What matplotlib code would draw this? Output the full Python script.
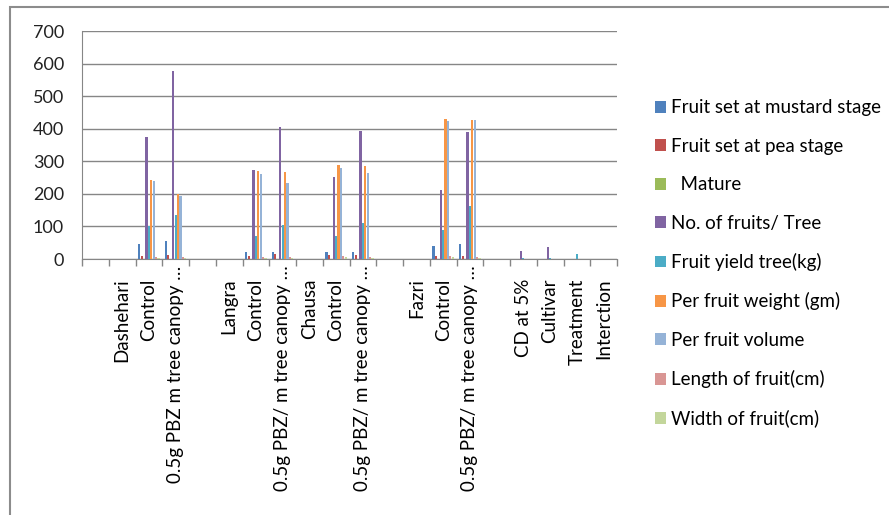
import numpy as np
import matplotlib
matplotlib.use("Agg")
import matplotlib.pyplot as plt
import matplotlib.transforms as mtransforms
from matplotlib.patches import Rectangle

plt.rcParams['font.family'] = ['Lato', 'DejaVu Sans']

# category labels along the x axis (blank slots separate the cultivars)
categories = ["", "Dashehari", "Control", "0.5g PBZ m tree canopy …", "",
              "Langra", "Control", "0.5g PBZ/ m tree canopy …",
              "Chausa", "Control", "0.5g PBZ/ m tree canopy …", "",
              "Fazri", "Control", "0.5g PBZ/ m tree canopy …", "",
              "CD at 5%", "Cultivar", "Treatment", "Interction"]

series_names = ["Fruit set at mustard stage", "Fruit set at pea stage", "  Mature",
                "No. of fruits/ Tree", "Fruit yield tree(kg)", "Per fruit weight (gm)",
                "Per fruit volume", "Length of fruit(cm)", "Width of fruit(cm)"]

mustard = [0, 0, 46, 56, 0, 0, 20, 20, 0, 20, 20, 0, 0, 39, 45, 0, 0, 0, 0, 0]
pea     = [0, 0, 10, 13, 0, 0, 10, 15, 0, 11, 13, 0, 0, 8, 9, 0, 0, 0, 0, 0]
mature  = [0, 0, 1, 1, 0, 0, 1, 1, 0, 1, 1, 0, 0, 1, 1, 0, 0, 0, 0, 0]
fruits  = [0, 0, 376, 577, 0, 0, 273, 405, 0, 251, 392, 0, 0, 212, 389, 0, 26, 37, 0, 0]
yield_  = [0, 0, 100, 135, 0, 0, 71, 105, 0, 71, 111, 0, 0, 89, 164, 0, 3, 3, 15, 0]
weight  = [0, 0, 244, 200, 0, 0, 269, 266, 0, 289, 284, 0, 0, 431, 426, 0, 0, 0, 0, 0]
volume  = [0, 0, 239, 193, 0, 0, 262, 234, 0, 280, 265, 0, 0, 423, 426, 0, 0, 0, 0, 0]
length  = [0, 0, 7, 7, 0, 0, 7, 7, 0, 8, 7, 0, 0, 10, 7, 0, 0, 0, 0, 0]
width   = [0, 0, 4, 4, 0, 0, 4, 4, 0, 5, 4, 0, 0, 5, 4, 0, 0, 0, 0, 0]

data = [mustard, pea, mature, fruits, yield_, weight, volume, length, width]
colors = ["#4F81BD", "#C0504D", "#9BBB59", "#8064A2", "#4BACC6",
          "#F79646", "#95B3D7", "#D99694", "#C3D69B"]

fig = plt.figure(figsize=(8.89, 5.15), dpi=100)
ax = fig.add_axes([82 / 889, 1 - 259 / 515, (617 - 82) / 889, (259 - 31) / 515])

x = np.arange(len(categories))
bw = 0.09
offset = (len(data) - 1) / 2
for i, (vals, c, name) in enumerate(zip(data, colors, series_names)):
    ax.bar(x + (i - offset) * bw, vals, bw * 0.9, color=c, label=name, zorder=3)

ax.set_xlim(-0.5, len(categories) - 0.5)
ax.set_ylim(0, 700)
ax.set_yticks(range(0, 701, 100))
ax.yaxis.grid(True, color="#868686", lw=1, zorder=0)
ax.tick_params(axis="y", length=0, labelsize=13, pad=13, labelcolor="#222222")

ax.set_xticks(x)
ax.set_xticklabels(categories, rotation=90, fontsize=13.5, va="top", ha="center")
ax.set_xticks(np.arange(-0.5, len(categories)), minor=True)
ax.tick_params(axis="x", which="major", length=0, pad=14)
ax.tick_params(axis="x", which="minor", length=5, color="#868686", width=1)

# truncated labels sit a little higher than the short ones
shift = mtransforms.ScaledTranslation(0, 13 / 100, fig.dpi_scale_trans)
for lab in ax.get_xticklabels():
    if lab.get_text().endswith("…"):
        lab.set_transform(lab.get_transform() + shift)

for s in ["top", "right"]:
    ax.spines[s].set_visible(False)
for s in ["left", "bottom"]:
    ax.spines[s].set_color("#868686")

fig.legend(loc="upper left", bbox_to_anchor=(647 / 889, 1 - 92 / 515), frameon=False,
           fontsize=13.5, handlelength=0.6, handleheight=0.6, handletextpad=0.3,
           labelspacing=1.14, borderaxespad=0)

# outer chart frame
fig.patches.append(Rectangle((10 / 889, -0.05), 1.1, 1 - 7 / 515 + 0.05,
                             transform=fig.transFigure, fill=False,
                             edgecolor="#8C8C8C", lw=1.5))

fig.savefig("out.png", dpi=100)
